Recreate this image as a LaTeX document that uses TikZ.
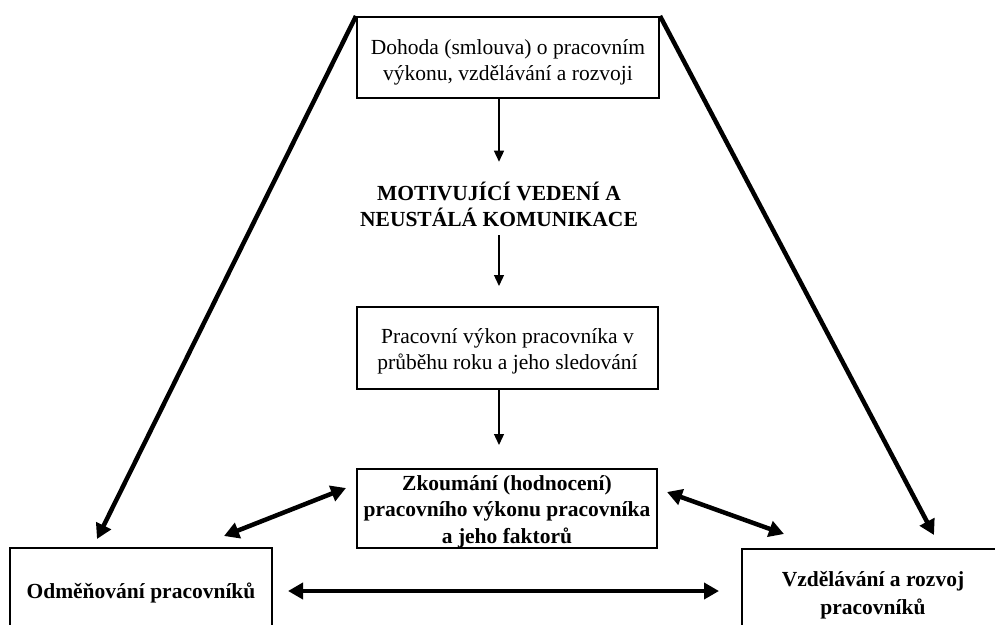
\documentclass[tikz,border=0pt]{standalone}
\usepackage{fontspec}
\setmainfont{Liberation Serif}
\usetikzlibrary{arrows.meta}
\begin{document}
\begin{tikzpicture}[x=1pt,y=-1pt,
  box/.style={draw, line width=2pt, inner sep=0pt},
  txt/.style={align=center, inner sep=0pt, font=\fontsize{21.5}{26}\selectfont},
  boldtxt/.style={align=center, inner sep=0pt, font=\fontsize{21.5}{26.5}\selectfont\bfseries},
  thinarrow/.style={line width=1.3pt, -{Triangle[length=11pt,width=10pt]}},
  bigarrow/.style={line width=4.5pt, -{Triangle[length=15pt,width=16pt]}},
  dblarrow/.style={line width=4.5pt, {Triangle[length=15pt,width=16pt]}-{Triangle[length=15pt,width=16pt]}}]
\useasboundingbox (0,0) rectangle (995,624);
% boxes
\node[box, minimum width=302pt, minimum height=81pt] (top) at (508,57.5) {};
\node[box, minimum width=301pt, minimum height=82pt] (perf) at (507.5,348) {};
\node[box, minimum width=300pt, minimum height=79pt] (eval) at (507,508.5) {};
\node[box, minimum width=262pt, minimum height=84pt] (rew) at (141,590) {};
\node[box, minimum width=262pt, minimum height=86pt] (dev) at (873,592) {};
% texts
\node[txt] (topt) at (508,62.5) {Dohoda (smlouva) o pracovním\\výkonu, vzdělávání a rozvoji};
\node[boldtxt] (mid) at (499,204.5) {MOTIVUJÍCÍ VEDENÍ A\\NEUSTÁLÁ KOMUNIKACE};
\node[txt] (perft) at (507.5,351.5) {Pracovní výkon pracovníka v\\průběhu roku a jeho sledování};
\node[boldtxt] (evalt) at (507,511.5) {Zkoumání (hodnocení)\\pracovního výkonu pracovníka\\a jeho faktorů};
\node[boldtxt] (rewt) at (141,593) {Odměňování pracovníků};
\node[boldtxt, font=\fontsize{21.5}{28}\selectfont\bfseries] (devt) at (873,595) {Vzdělávání a rozvoj\\pracovníků};
% vertical flow
\draw[thinarrow] (top.south -| mid.north) -- ([yshift=20pt]mid.north);
\draw[thinarrow] ([yshift=-8pt]mid.south) -- ([yshift=20pt]perf.north -| mid.south);
\draw[thinarrow] (perf.south -| mid.south) -- ([yshift=23pt]eval.north -| mid.south);
% diagonals
\draw[bigarrow] (top.north west) -- ([xshift=88pt,yshift=8pt]rew.north west);
\draw[bigarrow] (top.north east) -- ([xshift=193pt,yshift=13pt]dev.north west);
% double arrows
\draw[dblarrow] ([xshift=-49pt,yshift=11pt]rew.north east) -- ([xshift=-10pt,yshift=20.5pt]eval.west);
\draw[dblarrow] ([xshift=9pt,yshift=16.5pt]eval.east) -- ([xshift=43pt,yshift=14pt]dev.north west);
\draw[dblarrow, shorten <=15pt, shorten >=22pt] ([yshift=-1pt]rew.east) -- ([yshift=-1pt]rew.east -| dev.west);
\end{tikzpicture}
\end{document}
